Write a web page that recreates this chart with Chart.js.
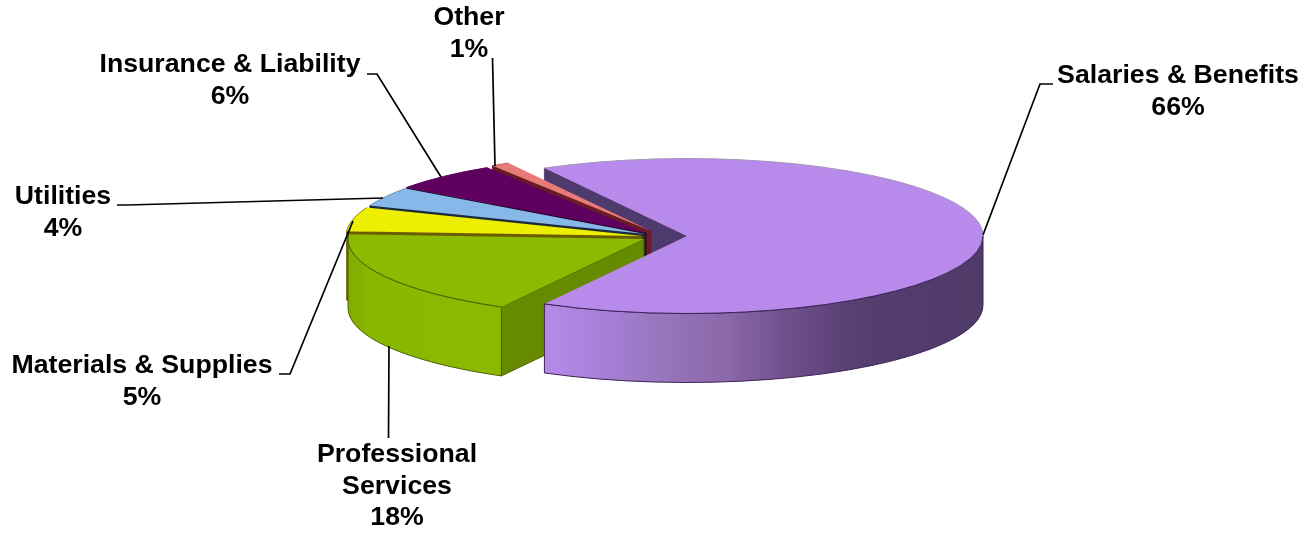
<!DOCTYPE html>
<html>
<head>
<meta charset="utf-8">
<style>html,body{margin:0;padding:0;background:#fff}canvas{display:block}</style>
<script src="https://cdn.jsdelivr.net/npm/chart.js@4"></script>
</head>
<body>
<div style="width:1312px;height:533px"><canvas id="c" width="1312" height="533"></canvas></div>
<script>
// ---- data
const categories = ['Salaries & Benefits','Professional Services','Materials & Supplies','Utilities','Insurance & Liability','Other'];
const values = [66,18,5,4,6,1];
// ---- style
const topColors  = ['#b88aec','#8cba00','#eeee00','#86b8ea','#5f0060','#e87a78'];
const wallColors = ['#4f3a6e','#668a00','#6b5c00','#1d2c3c','#2a002a','#6a1c24'];
const edgeColors = ['#3c2458','#4a6400','#8a8a00','#6a8fb5','#5f0060','#c06060'];
// ---- layout of the tilted pie
const pieCentre = [645,235], radiusX = 296, radiusY = 77.5, depth = 69, startRotation = -28.8;
const explode = [[42,1],[-1,4],[-3,1],[0,-1],[1,-2],[6,-4]];
const drawOrder = [5,4,3,2,1];
const labelLines = [['Salaries & Benefits'],['Professional','Services'],['Materials & Supplies'],['Utilities'],['Insurance & Liability'],['Other']];
const labelX = [1178,397,142,63,230,469];
const labelY = [76,455,366,197,65,18];
const lineH = 31.5;
const leaders = [
 [[1053,84],[1040,84],[983,235]],
 [[388.5,438],[389,346]],
 [[279,374],[290,374],[353,221]],
 [[117,205],[127,205],[383,198]],
 [[367,74],[377,74],[441,177]],
 [[492.5,58],[495,166]]
];

const tilted = {
  id:'tilted',
  beforeDatasetDraw(chart,args){
    const ctx = chart.ctx, arcs = chart.getDatasetMeta(0).data;
    const geo = i => ({cx:pieCentre[0]+explode[i][0], cy:pieCentre[1]+explode[i][1]});
    const startWall = i => {
      const {cx,cy} = geo(i), a = arcs[i].startAngle;
      const x = cx+radiusX*Math.cos(a), y = cy+radiusY*Math.sin(a);
      ctx.beginPath(); ctx.moveTo(cx,cy); ctx.lineTo(x,y); ctx.lineTo(x,y+depth); ctx.lineTo(cx,cy+depth); ctx.closePath();
      ctx.fillStyle = wallColors[i]; ctx.fill();
      ctx.strokeStyle = i===1 ? '#3c5200' : wallColors[i]; ctx.lineWidth = 0.8; ctx.stroke();
    };
    const outerWall = i => {
      const {cx,cy} = geo(i);
      const a0 = Math.max(arcs[i].startAngle,0), a1 = Math.min(arcs[i].endAngle,Math.PI);
      if (a1<=a0) return;
      const xa = cx+radiusX*Math.cos(a0), xb = cx+radiusX*Math.cos(a1);
      const g = ctx.createLinearGradient(Math.min(xa,xb),0,Math.max(xa,xb),0);
      if (i===0){
        [[0,'#b68aea'],[0.12,'#a880da'],[0.24,'#9a78c0'],[0.42,'#8a67a8'],[0.58,'#6a4c86'],[0.72,'#563e70'],[1,'#4f3a68']].forEach(s=>g.addColorStop(s[0],s[1]));
      } else {
        [[0,'#82aa00'],[0.15,'#8ab600'],[1,'#8cb900']].forEach(s=>g.addColorStop(s[0],s[1]));
      }
      ctx.beginPath();
      ctx.ellipse(cx,cy,radiusX,radiusY,0,a0,a1);
      ctx.ellipse(cx,cy+depth,radiusX,radiusY,0,a1,a0,true);
      ctx.closePath();
      ctx.fillStyle = g; ctx.fill();
      ctx.strokeStyle = edgeColors[i]; ctx.lineWidth = 1; ctx.stroke();
    };
    const top = i => {
      const {cx,cy} = geo(i), arc = arcs[i], R = arc.outerRadius;
      ctx.save();
      ctx.translate(cx,cy); ctx.scale(radiusX/R,radiusY/R); ctx.translate(-arc.x,-arc.y);
      arc.draw(ctx);
      ctx.restore();
      if (i===0){
        ctx.beginPath();
        ctx.ellipse(cx,cy,radiusX,radiusY,0,arc.startAngle,0);
        ctx.strokeStyle = '#a394b8'; ctx.lineWidth = 1; ctx.stroke();
        ctx.beginPath();
        ctx.ellipse(cx,cy,radiusX,radiusY,0,0,arc.endAngle);
        ctx.strokeStyle = edgeColors[0]; ctx.stroke();
      } else {
        ctx.beginPath();
        ctx.ellipse(cx,cy,radiusX,radiusY,0,arc.startAngle,arc.endAngle);
        ctx.strokeStyle = edgeColors[i]; ctx.lineWidth = 1; ctx.stroke();
      }
    };
    startWall(0);
    drawOrder.forEach(i=>{ startWall(i); outerWall(i); top(i); });
    outerWall(0); top(0);
    return false;
  },
  afterDraw(chart){
    const ctx = chart.ctx;
    ctx.save();
    ctx.strokeStyle = '#000'; ctx.lineWidth = 1.7;
    leaders.forEach(l=>{ ctx.beginPath(); l.forEach((p,k)=> k? ctx.lineTo(p[0],p[1]) : ctx.moveTo(p[0],p[1])); ctx.stroke(); });
    ctx.fillStyle = '#000'; ctx.font = 'bold 26.7px "Liberation Sans", Arial, sans-serif';
    ctx.textAlign = 'center'; ctx.textBaseline = 'middle';
    const total = values.reduce((a,b)=>a+b,0);
    categories.forEach((c,i)=>{
      const lines = labelLines[i].concat([Math.round(values[i]/total*100)+'%']);
      lines.forEach((t,k)=>ctx.fillText(t,labelX[i],labelY[i]+k*lineH));
    });
    ctx.restore();
  }
};

new Chart(document.getElementById('c'),{
  type:'pie',
  data:{labels:categories,datasets:[{data:values,backgroundColor:topColors,borderWidth:0}]},
  options:{
    responsive:false,animation:false,rotation:startRotation,
    plugins:{legend:{display:false},tooltip:{enabled:false},title:{display:false}}
  },
  plugins:[tilted]
});
</script>
</body>
</html>
